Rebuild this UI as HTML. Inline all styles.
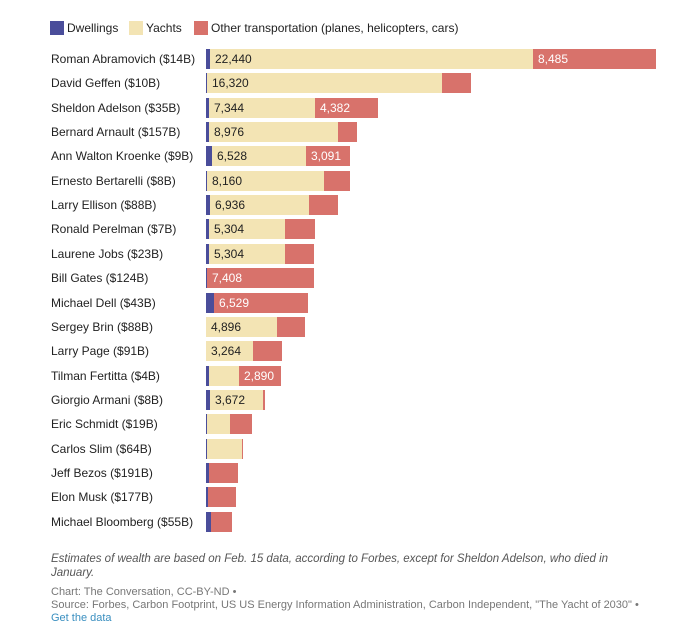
<!DOCTYPE html>
<html><head><meta charset="utf-8"><style>
body{margin:0;width:695px;height:628px;background:#fff;font-family:"Liberation Sans",sans-serif;position:relative;overflow:hidden}
.a{position:absolute}
.lab{position:absolute;left:51px;font-size:12px;color:#222;line-height:20px;white-space:nowrap}
.s{position:absolute;height:20px;font-size:12px;line-height:20px;box-sizing:border-box;padding-left:5px;white-space:nowrap;overflow:hidden}
.d{background:#4a4d9a}.y{background:#f3e4b4;color:#222}.o{background:#d8726b;color:#fff}
.leg{position:absolute;top:21px;width:14px;height:14px}
.lt{position:absolute;top:20px;font-size:12px;color:#222;line-height:16px}
.f{position:absolute;left:51px;font-size:11px;color:#777;line-height:13px}
</style></head><body>
<div class="leg d" style="left:50px"></div><div class="lt" style="left:67px">Dwellings</div>
<div class="leg y" style="left:129px"></div><div class="lt" style="left:146px">Yachts</div>
<div class="leg o" style="left:194px"></div><div class="lt" style="left:211px">Other transportation (planes, helicopters, cars)</div>
<div id="c"></div>
<div class="f" style="top:552px;font-style:italic;color:#555;font-size:11.5px;line-height:14px;width:600px">Estimates of wealth are based on Feb. 15 data, according to Forbes, except for Sheldon Adelson, who died in January.</div>
<div class="f" style="top:586px">Chart: The Conversation, CC-BY-ND •</div>
<div class="f" style="top:599px">Source: Forbes, Carbon Footprint, US US Energy Information Administration, Carbon Independent, "The Yacht of 2030" •</div>
<div class="f" style="top:612px;color:#3a8fc0">Get the data</div>
<script>
var R=[
["Roman Abramovich ($14B)",210,533,656,"22,440","8,485"],
["David Geffen ($10B)",207,442,471,"16,320",""],
["Sheldon Adelson ($35B)",209,315,378,"7,344","4,382"],
["Bernard Arnault ($157B)",209,338,357,"8,976",""],
["Ann Walton Kroenke ($9B)",212,306,350,"6,528","3,091"],
["Ernesto Bertarelli ($8B)",207,324,350,"8,160",""],
["Larry Ellison ($88B)",210,309,338,"6,936",""],
["Ronald Perelman ($7B)",209,285,315,"5,304",""],
["Laurene Jobs ($23B)",209,285,314,"5,304",""],
["Bill Gates ($124B)",207,207,314,"","7,408"],
["Michael Dell ($43B)",214,214,308,"","6,529"],
["Sergey Brin ($88B)",206,277,305,"4,896",""],
["Larry Page ($91B)",206,253,282,"3,264",""],
["Tilman Fertitta ($4B)",209,239,281,"","2,890"],
["Giorgio Armani ($8B)",210,263,265,"3,672",""],
["Eric Schmidt ($19B)",207,230,252,"",""],
["Carlos Slim ($64B)",207,242,243,"",""],
["Jeff Bezos ($191B)",209,209,238,"",""],
["Elon Musk ($177B)",208,208,236,"",""],
["Michael Bloomberg ($55B)",211,211,232,"",""]];
var h="";R.forEach(function(r,i){var t=49+i*24.35;
h+='<div class="lab" style="top:'+t+'px">'+r[0]+'</div>';
h+='<div class="s d" style="top:'+t+'px;left:206px;width:'+(r[1]-206)+'px;padding:0"></div>';
if(r[2]>r[1])h+='<div class="s y" style="top:'+t+'px;left:'+r[1]+'px;width:'+(r[2]-r[1])+'px">'+r[4]+'</div>';
h+='<div class="s o" style="top:'+t+'px;left:'+r[2]+'px;width:'+(r[3]-r[2])+'px;'+(r[3]-r[2]<5?'padding:0':'')+'">'+r[5]+'</div>';});
document.getElementById("c").innerHTML=h;
</script>
</body></html>
